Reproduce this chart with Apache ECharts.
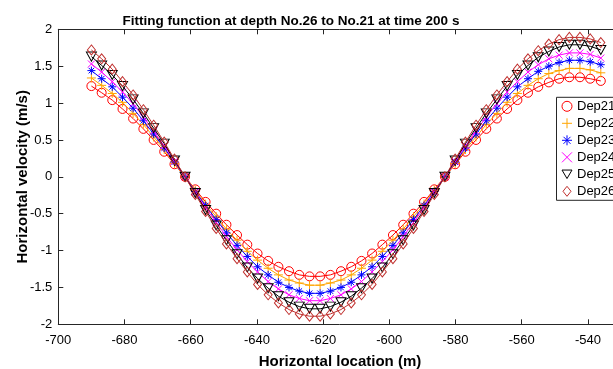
<!DOCTYPE html>
<html>
<head>
<meta charset="utf-8">
<script src="https://cdn.jsdelivr.net/npm/echarts@6/dist/echarts.min.js"></script>
<style>
html,body{margin:0;padding:0;background:#fff;overflow:hidden;}
#c{width:640px;height:369px;}
</style>
</head>
<body>
<div id="c"></div>
<script>
const xs = [-690, -686.9, -683.7, -680.6, -677.4, -674.3, -671.2, -668.0, -664.9, -661.7, -658.6, -655.5, -652.3, -649.2, -646.0, -642.9, -639.8, -636.6, -633.5, -630.3, -627.2, -624.1, -620.9, -617.8, -614.6, -611.5, -608.4, -605.2, -602.1, -598.9, -595.8, -592.7, -589.5, -586.4, -583.2, -580.1, -577.0, -573.8, -570.7, -567.5, -564.4, -561.3, -558.1, -555.0, -551.8, -548.7, -545.6, -542.4, -539.3, -536.1];

const dep21 = [1.23,1.14,1.04,0.92,0.79,0.65,0.50,0.34,0.17,0,-0.17,-0.34,-0.50,-0.65,-0.79,-0.92,-1.04,-1.14,-1.22,-1.28,-1.33,-1.35,-1.35,-1.33,-1.28,-1.22,-1.14,-1.04,-0.92,-0.79,-0.65,-0.50,-0.34,-0.17,0,0.17,0.34,0.50,0.65,0.79,0.92,1.04,1.14,1.22,1.28,1.33,1.35,1.35,1.33,1.30];
const dep22 = [1.34,1.24,1.13,1.01,0.86,0.71,0.54,0.37,0.18,0,-0.18,-0.37,-0.54,-0.71,-0.86,-1.01,-1.13,-1.24,-1.33,-1.40,-1.44,-1.47,-1.47,-1.44,-1.40,-1.33,-1.24,-1.13,-1.01,-0.86,-0.71,-0.54,-0.37,-0.18,0,0.18,0.37,0.54,0.71,0.86,1.01,1.13,1.24,1.33,1.40,1.44,1.47,1.47,1.45,1.41];
const dep23 = [1.44,1.33,1.22,1.08,0.93,0.76,0.58,0.39,0.20,0,-0.20,-0.39,-0.58,-0.76,-0.93,-1.08,-1.22,-1.33,-1.43,-1.50,-1.55,-1.58,-1.58,-1.55,-1.50,-1.43,-1.33,-1.22,-1.08,-0.93,-0.76,-0.58,-0.39,-0.20,0,0.20,0.39,0.58,0.76,0.93,1.08,1.22,1.33,1.43,1.50,1.55,1.58,1.58,1.56,1.52];
const dep24 = [1.53,1.42,1.29,1.15,0.99,0.81,0.62,0.42,0.21,0,-0.21,-0.42,-0.62,-0.81,-0.99,-1.15,-1.29,-1.42,-1.52,-1.60,-1.65,-1.68,-1.68,-1.65,-1.60,-1.52,-1.42,-1.29,-1.15,-0.99,-0.81,-0.62,-0.42,-0.21,0,0.21,0.42,0.62,0.81,0.99,1.15,1.29,1.42,1.52,1.60,1.65,1.68,1.68,1.66,1.61];
const dep25 = [1.63,1.51,1.38,1.23,1.05,0.86,0.66,0.45,0.22,0,-0.22,-0.45,-0.66,-0.86,-1.05,-1.23,-1.38,-1.51,-1.62,-1.70,-1.76,-1.79,-1.79,-1.76,-1.70,-1.62,-1.51,-1.38,-1.23,-1.05,-0.86,-0.66,-0.45,-0.22,0,0.22,0.45,0.66,0.86,1.05,1.23,1.38,1.51,1.62,1.70,1.76,1.79,1.79,1.77,1.72];
const dep26 = [1.72,1.60,1.46,1.29,1.11,0.91,0.70,0.47,0.24,0,-0.24,-0.47,-0.70,-0.91,-1.11,-1.29,-1.46,-1.60,-1.71,-1.80,-1.86,-1.89,-1.89,-1.86,-1.80,-1.71,-1.60,-1.46,-1.29,-1.11,-0.91,-0.70,-0.47,-0.24,0,0.24,0.47,0.70,0.91,1.11,1.29,1.46,1.60,1.71,1.80,1.86,1.89,1.89,1.87,1.82];

const seriesNames = ['Dep21','Dep22','Dep23','Dep24','Dep25','Dep26'];
const xTicks = [-700,-680,-660,-640,-620,-600,-580,-560,-540];
const yTicks = [-2,-1.5,-1,-0.5,0,0.5,1,1.5,2];

const FONT = "'Liberation Sans', Arial, Helvetica, sans-serif";
const AXC = '#262626';
const sty = [
  {c:'#ff0000', sym:'path://M0,-1A1,1 0 1 1 0,1A1,1 0 1 1 0,-1Z', size:9},
  {c:'#ffa500', sym:'path://M0,-1L0,1M-1,0L1,0', size:9},
  {c:'#0000ff', sym:'path://M0,-1L0,1M-1,0L1,0M-0.7,-0.7L0.7,0.7M-0.7,0.7L0.7,-0.7', size:8},
  {c:'#ff00ff', sym:'path://M-1,-1L1,1M-1,1L1,-1', size:7},
  {c:'#000000', sym:'path://M-1,-0.8L1,-0.8L0,0.9Z', size:[10,9]},
  {c:'#c0302e', sym:'path://M0,-1L0.8,0L0,1L-0.8,0Z', size:[8,10]}
];
const allData = [dep21, dep22, dep23, dep24, dep25, dep26];

const series = allData.map((arr, i) => ({
  name: seriesNames[i],
  type: 'line',
  data: arr.map((v, j) => [xs[j], v]),
  symbol: sty[i].sym,
  symbolSize: sty[i].size,
  showSymbol: true,
  lineStyle: {color: sty[i].c, width: 1},
  itemStyle: {color: 'rgba(0,0,0,0)', borderColor: sty[i].c, borderWidth: 1},
  emphasis: {disabled: true},
  animation: false,
  z: 2 + i
}));

const chart = echarts.init(document.getElementById('c'), null, {renderer: 'canvas'});
chart.setOption({
  animation: false,
  backgroundColor: '#fff',
  textStyle: {fontFamily: FONT},
  title: [
    {text: 'Fitting function at depth No.26 to No.21 at time 200 s', left: 286, top: 9, textAlign: 'center',
     textStyle: {fontFamily: FONT, fontSize: 13.5, fontWeight: 'bold', color: '#000'}},
    {text: 'Horizontal location (m)', left: 335, top: 349, textAlign: 'center',
     textStyle: {fontFamily: FONT, fontSize: 15, fontWeight: 'bold', color: '#000'}}
  ],
  grid: {left: 58.3, top: 29.3, width: 562.7, height: 295, containLabel: false, outerBoundsMode: 'none'},
  legend: {
    orient: 'vertical', left: 556.5, top: 97.3,
    padding: [2, 40, 2, 5], itemGap: 3, itemWidth: 10, itemHeight: 10,
    backgroundColor: '#fff', borderColor: AXC, borderWidth: 1,
    textStyle: {fontFamily: FONT, fontSize: 13, color: '#000', lineHeight: 14},
    data: seriesNames.map((n, i) => ({name: n, icon: sty[i].sym,
      itemStyle: {color: 'rgba(0,0,0,0)', borderColor: sty[i].c, borderWidth: 1}})),
    selectedMode: false, z: 20
  },
  xAxis: [
    {type: 'value', min: -700, max: -530, interval: 20, position: 'bottom',
     axisLine: {show: true, onZero: false, lineStyle: {color: AXC, width: 1}},
     axisTick: {show: true, inside: true, length: 5, lineStyle: {color: AXC}},
     axisLabel: {show: true, margin: 10, fontSize: 13, color: '#000', fontFamily: FONT, showMaxLabel: false,
       formatter: v => xTicks.indexOf(v) >= 0 ? String(v) : ''},
     splitLine: {show: false}},
    {type: 'value', min: -700, max: -530, interval: 20, position: 'top',
     axisLine: {show: true, onZero: false, lineStyle: {color: AXC, width: 1}},
     axisTick: {show: true, inside: true, length: 5, lineStyle: {color: AXC}},
     axisLabel: {show: false}, splitLine: {show: false}}
  ],
  yAxis: [
    {type: 'value', min: -2, max: 2, interval: 0.5, position: 'left',
     name: 'Horizontal velocity (m/s)', nameLocation: 'middle', nameGap: 28, nameMoveOverlap: false,
     nameTextStyle: {fontFamily: FONT, fontSize: 15, fontWeight: 'bold', color: '#000'},
     axisLine: {show: true, onZero: false, lineStyle: {color: AXC, width: 1}},
     axisTick: {show: true, inside: true, length: 5, lineStyle: {color: AXC}},
     axisLabel: {show: true, margin: 6, fontSize: 13, color: '#000', fontFamily: FONT,
       formatter: v => yTicks.indexOf(v) >= 0 ? String(v) : ''},
     splitLine: {show: false}},
    {type: 'value', min: -2, max: 2, interval: 0.5, position: 'right',
     axisLine: {show: true, onZero: false, lineStyle: {color: AXC, width: 1}},
     axisTick: {show: true, inside: true, length: 5, lineStyle: {color: AXC}},
     axisLabel: {show: false}, splitLine: {show: false}}
  ],
  series: series
});
</script>
</body>
</html>
